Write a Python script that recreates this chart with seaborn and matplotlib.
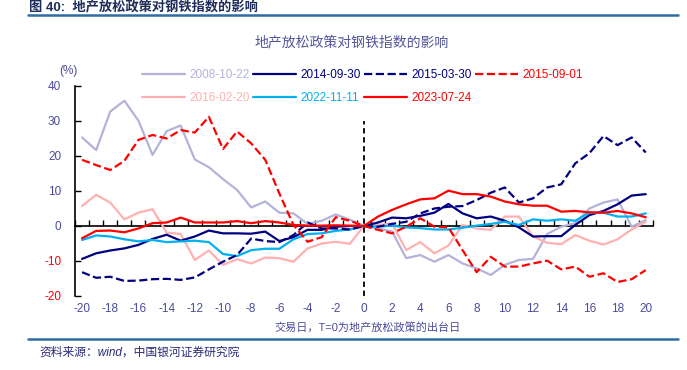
import numpy as np
import matplotlib
matplotlib.use("Agg")
import matplotlib.pyplot as plt
import seaborn as sns

# 交易日 T-20 ~ T+20
days = list(range(-20, 21))

s_20081022 = [25.3, 21.7, 32.7, 35.8, 30.1, 20.3, 27.1, 28.7, 19.0, 16.8, 13.4, 10.3, 5.3, 7.0, 3.8, 3.6, 0.6, 1.5, 3.3, 1.8,
              0.0, -0.7, -1.6, -9.2, -8.3, -10.2, -8.3, -10.7, -12.1, -14.0, -11.1, -9.7, -9.4, -2.3, -0.2, 0.8, 5.0, 6.7, 7.6, -0.2, 1.7]
s_20140930 = [-9.4, -7.8, -7.0, -6.4, -5.4, -3.7, -2.5, -4.2, -3.0, -1.3, -2.1, -2.1, -2.2, -1.6, -4.3, -3.2, -1.1, -1.1, -0.2, 0.0,
              0.0, 1.0, 2.4, 2.2, 2.9, 3.8, 6.3, 3.6, 2.2, 2.7, 1.5, -0.4, -3.0, -2.9, -2.9, 0.3, 3.1, 4.3, 6.2, 8.7, 9.1]
s_20150330 = [-13.2, -14.8, -14.5, -15.7, -15.6, -15.2, -15.1, -15.4, -14.7, -12.4, -10.2, -8.3, -3.6, -4.3, -4.6, -2.6, 1.0, -0.7, -0.7, -1.0,
              0.0, -0.2, 0.6, 1.2, 3.6, 5.0, 5.5, 5.7, 7.4, 9.5, 11.0, 6.7, 7.9, 11.0, 11.9, 17.9, 20.8, 25.7, 23.1, 25.3, 21.0]
s_20150901 = [18.9, 17.4, 16.0, 18.6, 24.6, 26.0, 25.0, 27.4, 26.7, 31.2, 22.0, 27.0, 23.6, 18.9, 9.3, 0.3, -4.5, -3.2, 2.5, 1.5,
              0.0, -1.1, -2.1, -0.2, 2.2, -0.2, -0.4, -6.9, -13.2, -8.8, -11.6, -11.6, -10.7, -9.9, -12.4, -11.6, -14.5, -13.5, -16.0, -15.2, -12.6]
s_20160220 = [5.7, 8.9, 6.7, 1.9, 3.8, 4.8, -1.9, -2.3, -9.7, -7.0, -11.1, -9.5, -10.7, -9.0, -9.2, -10.2, -6.4, -5.0, -4.5, -5.1,
              0.0, 0.3, 0.7, -6.9, -4.6, -7.8, -5.6, 0.3, -0.7, -1.1, 2.7, 2.7, -3.0, -4.8, -5.2, -2.6, -4.2, -5.3, -3.8, -1.0, 1.2]
s_20221111 = [-4.0, -2.7, -3.0, -3.8, -4.4, -4.0, -4.6, -4.4, -4.2, -4.6, -8.0, -8.6, -6.9, -6.5, -6.5, -3.8, -2.3, -2.1, -1.4, -1.0,
              0.0, -0.2, 0.1, -0.4, -0.6, -1.0, -1.0, -0.5, 0.1, 0.6, 1.2, 0.3, 1.9, 1.5, 1.9, 1.5, 3.8, 3.8, 2.7, 2.7, 3.6]
s_20230724 = [-3.5, -1.4, -1.3, -1.8, -0.7, 0.8, 1.0, 2.4, 1.0, 1.0, 1.0, 1.4, 0.8, 1.4, 1.0, 0.3, 0.1, 0.1, 0.2, 0.1,
              0.0, 2.7, 4.6, 6.2, 7.6, 7.9, 10.1, 9.1, 9.1, 8.4, 7.0, 6.2, 5.8, 5.8, 4.1, 4.3, 3.9, 3.8, 4.3, 3.6, 2.5]

# 图例顺序按列排：第一行四个，第二行三个
series = [
    ("2008-10-22", s_20081022, "#b3b3d9", "-"),
    ("2016-02-20", s_20160220, "#ffb0b0", "-"),
    ("2014-09-30", s_20140930, "#000080", "-"),
    ("2022-11-11", s_20221111, "#00b0f0", "-"),
    ("2015-03-30", s_20150330, "#000080", "--"),
    ("2023-07-24", s_20230724, "#ff0000", "-"),
    ("2015-09-01", s_20150901, "#ff0000", "--"),
]

sns.set_style("white")
plt.rcParams['font.family'] = ['Liberation Sans', 'Noto Sans CJK SC']
plt.rcParams['axes.unicode_minus'] = False

txt_color = "#4b4b9b"

fig = plt.figure(figsize=(6.87, 3.70), dpi=100)
ax = fig.add_axes([0.1092, 0.2, 0.841, 0.5676])

for name, vals, col, ls in series:
    sns.lineplot(x=days, y=vals, ax=ax, color=col, linestyle=ls, linewidth=1.6,
                 label=name, zorder=3)

ax.vlines(0, -20, 30, colors="black", linestyles=(0, (3, 2)), linewidth=1.3, zorder=4)

ax.set_xlim(-20.5, 20.5)
ax.set_ylim(-20, 40)

for side in ["top", "right"]:
    ax.spines[side].set_visible(False)
ax.spines["bottom"].set_position(("data", 0))
ax.spines["bottom"].set_color("black")
ax.spines["bottom"].set_linewidth(1.2)
ax.spines["bottom"].set_zorder(2)
ax.spines["left"].set_color("black")
ax.spines["left"].set_linewidth(1.2)

ax.set_xticks(np.arange(-20.5, 21, 1))
ax.tick_params(axis="x", direction="in", length=4, width=1, color="black", labelbottom=False, bottom=True)
ax.set_yticks(range(-20, 41, 10))
ax.tick_params(axis="y", direction="in", length=4, width=1, color="black", left=True,
               labelsize=8.5, pad=10)
for lab in ax.get_yticklabels():
    v = float(lab.get_text().replace("−", "-"))
    lab.set_color("#ff0000" if v < 0 else txt_color)
ax.set_xlabel("")
ax.set_ylabel("")

sec = ax.secondary_xaxis("bottom")
sec.set_xticks(range(-20, 21, 2))
sec.tick_params(length=0, pad=5, labelsize=8.5, labelcolor=txt_color)
sec.spines["bottom"].set_visible(False)

leg = ax.legend(ncol=4, loc="upper left", bbox_to_anchor=(0.2067, 0.814),
                bbox_transform=fig.transFigure, frameon=False, fontsize=8.5,
                handlelength=3.6, handletextpad=0.4, columnspacing=0.3,
                labelspacing=0.95, borderpad=0, borderaxespad=0, labelcolor="linecolor")

fig.text(0.0990, 0.808, "(%)", color=txt_color, fontsize=8.5, ha="center", va="center")
fig.text(0.512, 0.886, "地产放松政策对钢铁指数的影响", color="#55559a", fontsize=10,
         ha="center", va="center")
fig.text(0.535, 0.113, "交易日，T=0为地产放松政策的出台日", color=txt_color, fontsize=8,
         ha="center", va="center")
fig.text(0.042, 0.997, "图 40:  地产放松政策对钢铁指数的影响", color="#1f2d5a", fontsize=9.5,
         fontweight="bold", ha="left", va="top")
fig.text(0.057, 0.046, "资料来源：wind，中国银河证券研究院", color="#2a2a7a", fontsize=8.5,
         style="italic", ha="left", va="center")

fig.add_artist(plt.Line2D([0.041, 0.987], [1 - 15 / 370, 1 - 15 / 370], color="#2e6ca4", linewidth=1.8))
fig.add_artist(plt.Line2D([0.041, 0.987], [1 - 339 / 370, 1 - 339 / 370], color="#2e6ca4", linewidth=1.8))

fig.savefig("out.png", dpi=100)
